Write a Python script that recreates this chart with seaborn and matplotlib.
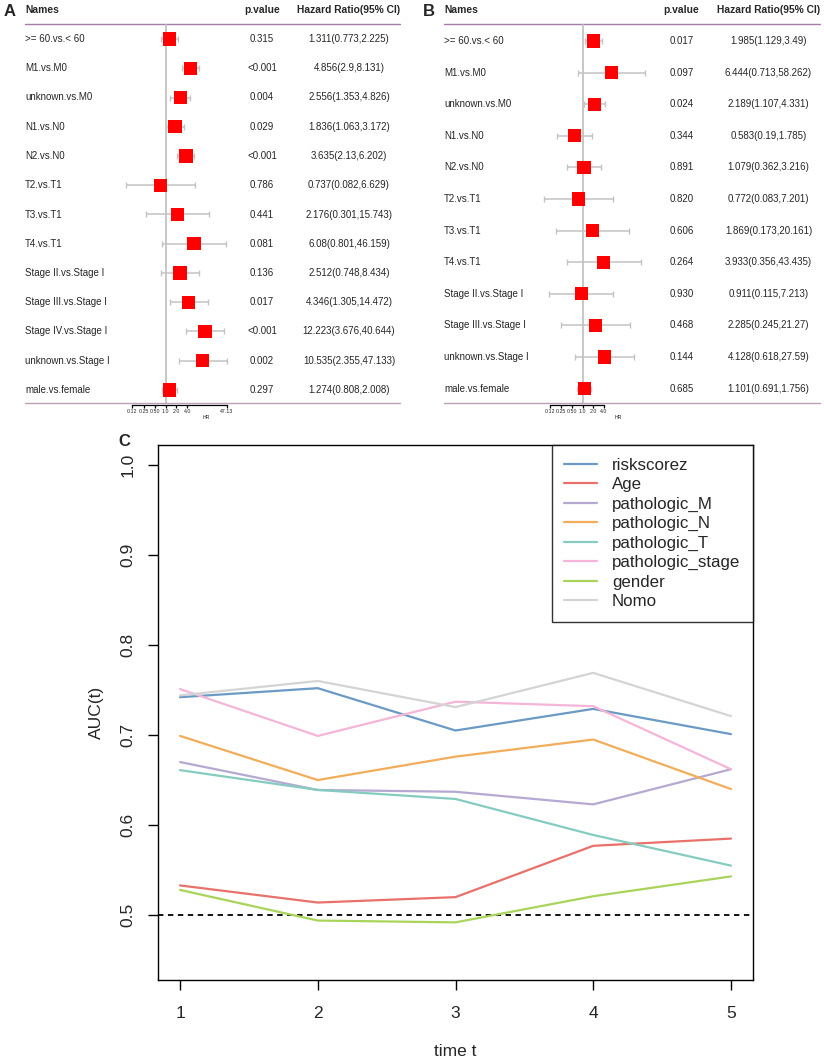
import numpy as np
import pandas as pd
import seaborn as sns
import matplotlib.pyplot as plt
from matplotlib.ticker import NullLocator

sns.set_style('white')
plt.rcParams['font.family'] = ['Liberation Sans', 'DejaVu Sans']

# forest plot data
names_a = [">= 60.vs.< 60", "M1.vs.M0", "unknown.vs.M0", "N1.vs.N0", "N2.vs.N0",
           "T2.vs.T1", "T3.vs.T1", "T4.vs.T1", "Stage II.vs.Stage I",
           "Stage III.vs.Stage I", "Stage IV.vs.Stage I", "unknown.vs.Stage I",
           "male.vs.female"]
p_a = ["0.315", "<0.001", "0.004", "0.029", "<0.001", "0.786", "0.441", "0.081",
       "0.136", "0.017", "<0.001", "0.002", "0.297"]
hr_a = [1.311, 4.856, 2.556, 1.836, 3.635, 0.737, 2.176, 6.08, 2.512, 4.346, 12.223, 10.535, 1.274]
lo_a = [0.773, 2.9, 1.353, 1.063, 2.13, 0.082, 0.301, 0.801, 0.748, 1.305, 3.676, 2.355, 0.808]
hi_a = [2.225, 8.131, 4.826, 3.172, 6.202, 6.629, 15.743, 46.159, 8.434, 14.472, 40.644, 47.133, 2.008]
ticks_a = [0.12, 0.25, 0.50, 1.0, 2.0, 4.0, 47.13]
tlab_a = ["0.12", "0.25", "0.50", "1.0", "2.0", "4.0", "47.13"]

names_b = [">= 60.vs.< 60", "M1.vs.M0", "unknown.vs.M0", "N1.vs.N0", "N2.vs.N0",
           "T2.vs.T1", "T3.vs.T1", "T4.vs.T1", "Stage II.vs.Stage I",
           "Stage III.vs.Stage I", "unknown.vs.Stage I", "male.vs.female"]
p_b = ["0.017", "0.097", "0.024", "0.344", "0.891", "0.820", "0.606", "0.264",
       "0.930", "0.468", "0.144", "0.685"]
hr_b = [1.985, 6.444, 2.189, 0.583, 1.079, 0.772, 1.869, 3.933, 0.911, 2.285, 4.128, 1.101]
lo_b = [1.129, 0.713, 1.107, 0.19, 0.362, 0.083, 0.173, 0.356, 0.115, 0.245, 0.618, 0.691]
hi_b = [3.49, 58.262, 4.331, 1.785, 3.216, 7.201, 20.161, 43.435, 7.213, 21.27, 27.59, 1.756]
ticks_b = [0.12, 0.25, 0.50, 1.0, 2.0, 4.0]
tlab_b = ["0.12", "0.25", "0.50", "1.0", "2.0", "4.0"]

# time-dependent AUC data
times = [1, 2, 3, 4, 5]
models = ["riskscorez", "Age", "pathologic_M", "pathologic_N", "pathologic_T",
          "pathologic_stage", "gender", "Nomo"]
auc = {
    "riskscorez":       [0.742, 0.752, 0.705, 0.729, 0.701],
    "Age":              [0.533, 0.514, 0.520, 0.577, 0.585],
    "pathologic_M":     [0.670, 0.639, 0.637, 0.623, 0.662],
    "pathologic_N":     [0.699, 0.650, 0.676, 0.695, 0.640],
    "pathologic_T":     [0.661, 0.639, 0.629, 0.589, 0.555],
    "pathologic_stage": [0.751, 0.699, 0.737, 0.732, 0.662],
    "gender":           [0.528, 0.494, 0.492, 0.521, 0.543],
    "Nomo":             [0.744, 0.760, 0.731, 0.769, 0.721],
}
colors = ["#6b9ac4", "#e9716b", "#b5a9d1", "#f2ad5b", "#85ccc0", "#f5b5d8", "#a9d45a", "#d4d4d4"]

W, H = 824, 1064
fig = plt.figure(figsize=(W / 100, H / 100), dpi=100)


def rect(l, t, r, b):
    return [l / W, 1 - b / H, (r - l) / W, (b - t) / H]


def forest(x0, letter, names, pv, hr, lo, hi, ticks, tlab, row0, step, ref_px, dbl, cols, line_l, line_r):
    top, bot = 0, 404.5
    r = lambda px: (px - row0) / step
    ylim = (r(bot), r(top))
    rows = np.arange(len(names))

    ax = fig.add_axes(rect(x0, top, x0 + 412, bot))
    ax.set_xlim(0, 412)
    ax.set_ylim(*ylim)
    ax.axis('off')
    ax.text(line_l - 21, r(12), letter, fontsize=12, fontweight='bold', va='center', ha='left')
    ax.text(line_l, r(10), "Names", fontsize=7.4, fontweight='bold', va='center')
    ax.text(cols[0], r(10), "p.value", fontsize=7.4, fontweight='bold', va='center', ha='center')
    ax.text(cols[1], r(10), "Hazard Ratio(95% CI)", fontsize=7.4, fontweight='bold', va='center', ha='center')
    ax.plot([line_l, line_r], [r(24), r(24)], color='#a67ba8', lw=1)
    ax.plot([line_l, line_r], [r(403), r(403)], color='#bba0b4', lw=1)
    for i in rows:
        ax.text(line_l, i, names[i], fontsize=7, va='center')
        ax.text(cols[0], i, pv[i], fontsize=7, va='center', ha='center')
        ax.text(cols[1], i, f"{hr[i]}({lo[i]},{hi[i]})", fontsize=7, va='center', ha='center')

    fa = fig.add_axes(rect(x0, top, x0 + 412, bot))
    fa.patch.set_alpha(0)
    fa.set_xscale('log')
    fa.set_xlim(2 ** ((0 - ref_px) / dbl), 2 ** ((412 - ref_px) / dbl))
    fa.set_ylim(*ylim)
    fa.vlines(1, r(24), r(403), color='#bdbdbd', lw=1.2, zorder=1)
    hr_arr, lo_arr, hi_arr = np.array(hr), np.array(lo), np.array(hi)
    fa.errorbar(hr_arr, rows, xerr=[hr_arr - lo_arr, hi_arr - hr_arr], fmt='none',
                ecolor='#c4c4c4', elinewidth=1.1, capsize=2.2, capthick=1, zorder=2)
    sns.scatterplot(x=hr_arr, y=rows, marker='s', s=92, color='#ff0000', edgecolor='none',
                    zorder=3, ax=fa, legend=False)
    for s in ['top', 'left', 'right']:
        fa.spines[s].set_visible(False)
    fa.spines['bottom'].set_bounds(ticks[0], ticks[-1])
    fa.spines['bottom'].set_color('black')
    fa.spines['bottom'].set_linewidth(0.9)
    fa.set_yticks([])
    fa.set_xticks(ticks)
    fa.set_xticklabels(tlab)
    fa.xaxis.set_minor_locator(NullLocator())
    fa.tick_params(axis='x', direction='out', length=2.5, width=0.9, labelsize=3.8, pad=1,
                   bottom=True, color='black')
    fa.set_xlabel("HR", fontsize=3.8, labelpad=0.5)


forest(0, "A", names_a, p_a, hr_a, lo_a, hi_a, ticks_a, tlab_a, 39, 29.25, 165.5, 10.98,
       (262, 349), 25, 400)
forest(412, "B", names_b, p_b, hr_b, lo_b, hi_b, ticks_b, tlab_b, 41, 31.6, 170.7, 10.65,
       (269.5, 356.5), 32, 408)

# panel C
df = pd.DataFrame([(t, m, v) for m in models for t, v in zip(times, auc[m])],
                  columns=["time", "model", "auc"])
ax = fig.add_axes(rect(158, 445, 753, 980))
sns.lineplot(data=df, x="time", y="auc", hue="model", hue_order=models, palette=colors,
             lw=1.6, ax=ax)
ax.axhline(0.5, color='black', ls=(0, (3, 2.5)), lw=1.3, zorder=0)
ax.set_xlim(0.84, 5.16)
ax.set_ylim(0.428, 1.022)
ax.set_xticks(times)
ax.set_yticks([0.5, 0.6, 0.7, 0.8, 0.9, 1.0])
ax.set_yticklabels(["0.5", "0.6", "0.7", "0.8", "0.9", "1.0"], rotation=90, va='center')
for s in ax.spines.values():
    s.set_color('black')
    s.set_linewidth(1)
ax.tick_params(direction='out', length=7, width=1, labelsize=12.5, color='black',
               left=True, bottom=True)
ax.tick_params(axis='x', pad=12)
ax.tick_params(axis='y', pad=9)
ax.set_xlabel("time t", fontsize=12.5, labelpad=16)
ax.set_ylabel("AUC(t)", fontsize=12.5, labelpad=12)
leg = ax.legend(loc='upper right', frameon=True, fancybox=False, edgecolor='black',
                fontsize=12.2, borderaxespad=0, handlelength=1.9, labelspacing=0.26,
                borderpad=0.75, handletextpad=0.9)
leg.get_frame().set_linewidth(1)
fig.text(118 / W, 1 - 442 / H, "C", fontsize=12, fontweight='bold', va='center')

fig.savefig("out.png", dpi=100)
